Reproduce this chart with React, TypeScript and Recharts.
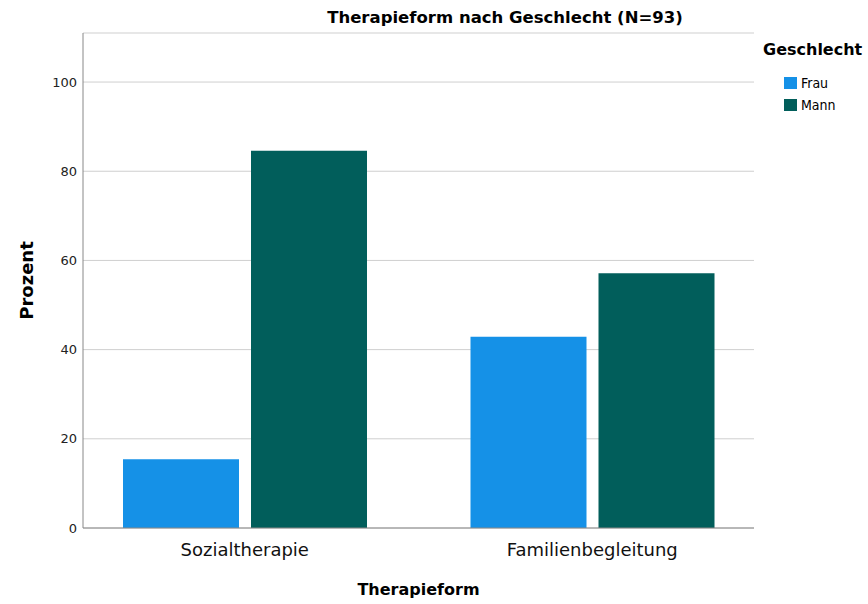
import React from "react";
import { BarChart, Bar, XAxis, YAxis, CartesianGrid, Label } from "recharts";

const categories = ["Sozialtherapie", "Familienbegleitung"];
const frau = [15.4, 42.9];
const mann = [84.6, 57.1];
const yTicks = [0, 20, 40, 60, 80, 100];
const seriesNames = ["Frau", "Mann"];
const colors = ["#1591e7", "#015e5b"];

const data = categories.map((c, i) => ({ name: c, Frau: frau[i], Mann: mann[i] }));

const FONT = "'DejaVu Sans', sans-serif";
const FONT_C = "'DejaVu Sans Condensed', 'DejaVu Sans', sans-serif";

export default function App() {
  return (
    <div style={{ position: "absolute", left: 0, top: 0, width: 868, height: 604, background: "#fff" }}>
      <div
        style={{
          position: "absolute",
          top: 8,
          left: 505 - 250,
          width: 500,
          textAlign: "center",
          fontFamily: FONT,
          fontWeight: "bold",
          fontSize: 16.5,
          color: "#000",
          lineHeight: "20px",
        }}
      >
        Therapieform nach Geschlecht (N=93)
      </div>
      <div style={{ position: "absolute", left: 763, top: 40, fontFamily: FONT, color: "#000" }}>
        <div style={{ fontWeight: "bold", fontSize: 16, lineHeight: "20px", marginBottom: 12 }}>Geschlecht</div>
        {seriesNames.map((n, i) => (
          <div key={n} style={{ display: "flex", alignItems: "center", marginLeft: 21, height: 22 }}>
            <span style={{ width: 13, height: 12, background: colors[i], display: "inline-block", marginRight: 4 }} />
            <span style={{ fontSize: 14, fontFamily: FONT_C, lineHeight: "16px" }}>{n}</span>
          </div>
        ))}
      </div>
      <BarChart
        width={868}
        height={604}
        data={data}
        margin={{ top: 33, right: 114, bottom: 0, left: 0 }}
        barGap={12}
        barSize={116}
      >
        <CartesianGrid horizontal vertical={false} stroke="#cfcfcf" />
        <XAxis
          dataKey="name"
          padding={{ left: -12, right: -12 }}
          axisLine={{ stroke: "#888" }}
          tickLine={false}
          tick={{ fill: "#111", fontSize: 18, fontFamily: FONT }}
          tickMargin={9}
          height={76}
        >
          <Label value="Therapieform" position="insideBottom" offset={9} style={{ fontWeight: "bold", fontSize: 16, fontFamily: FONT, fill: "#000" }} />
        </XAxis>
        <YAxis
          width={83}
          domain={[0, 111]}
          ticks={yTicks}
          allowDataOverflow
          axisLine={{ stroke: "#888" }}
          tickLine={false}
          tick={{ fill: "#222", fontSize: 13, fontFamily: FONT }}
          tickMargin={0}
        >
          <Label value="Prozent" angle={-90} position="insideLeft" offset={27} style={{ fontWeight: "bold", fontSize: 18, fontFamily: FONT, fill: "#000", textAnchor: "middle" }} />
        </YAxis>
        <Bar dataKey="Frau" fill={colors[0]} isAnimationActive={false} />
        <Bar dataKey="Mann" fill={colors[1]} isAnimationActive={false} />
      </BarChart>
    </div>
  );
}
